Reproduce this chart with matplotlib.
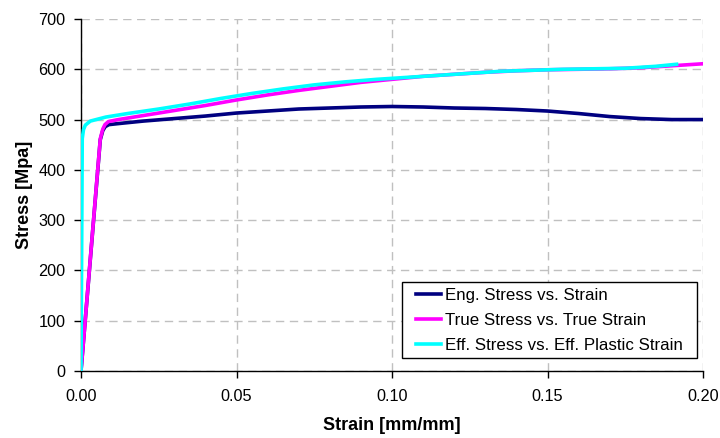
import matplotlib
matplotlib.use("Agg")
import matplotlib.pyplot as plt
from matplotlib.patches import Rectangle

# Engineering stress vs. engineering strain
eng_strain = [0, 0.0062, 0.007, 0.0078, 0.009, 0.012, 0.02, 0.03, 0.04, 0.05, 0.06, 0.07,
              0.08, 0.09, 0.10, 0.11, 0.12, 0.13, 0.14, 0.15, 0.16, 0.17, 0.18, 0.19, 0.20]
eng_stress = [0, 460, 478, 486, 490, 492, 497, 502, 507, 513, 517, 521,
              523, 525, 526, 525, 523, 522, 520, 517, 512, 506, 502, 500, 500]

# True stress vs. true strain
true_strain = [0, 0.0062, 0.007, 0.0077, 0.0088, 0.012, 0.02, 0.03, 0.04, 0.05, 0.06,
               0.07, 0.08, 0.09, 0.10, 0.11, 0.12, 0.13, 0.14, 0.15, 0.16, 0.17, 0.18,
               0.19, 0.20]
true_stress = [0, 462, 481, 490, 496, 500, 508, 518, 528, 539, 549,
               558, 566, 574, 580, 586, 590, 594, 597, 599, 600, 601, 603,
               607, 611]

# Effective stress vs. effective plastic strain
eff_strain = [0, 0.0004, 0.0008, 0.0014, 0.003, 0.008, 0.015, 0.025, 0.035, 0.045, 0.055,
              0.065, 0.075, 0.085, 0.095, 0.105, 0.115, 0.125, 0.135, 0.145, 0.155,
              0.165, 0.175, 0.185, 0.1915]
eff_stress = [0, 462, 480, 489, 497, 505, 512, 521, 531, 542, 552,
              561, 569, 575, 580, 584, 588, 592, 596, 598, 600,
              601, 602, 606, 610]

x_ticks = [0.00, 0.05, 0.10, 0.15, 0.20]
y_ticks = [0, 100, 200, 300, 400, 500, 600, 700]

plt.rcParams['font.family'] = ['Liberation Sans', 'DejaVu Sans']

fig = plt.figure(figsize=(7.2, 4.38), dpi=100)
ax = fig.add_axes([81 / 720, 1 - 371 / 438, (703 - 81) / 720, (371 - 19) / 438])

ax.plot(eng_strain, eng_stress, color='#000080', lw=2.6,
        label='Eng. Stress vs. Strain', zorder=3)
ax.plot(true_strain, true_stress, color='#FF00FF', lw=2.6,
        label='True Stress vs. True Strain', zorder=4)
ax.plot(eff_strain, eff_stress, color='#00FFFF', lw=2.6,
        label='Eff. Stress vs. Eff. Plastic Strain', zorder=5)

ax.set_xlim(0, 0.20)
ax.set_ylim(0, 700)
ax.set_xticks(x_ticks)
ax.set_xticklabels([f"{v:.2f}" for v in x_ticks])
ax.set_yticks(y_ticks)
ax.tick_params(direction='out', length=5, width=1, labelsize=11.7, colors='black')
ax.tick_params(axis='x', pad=8)
ax.tick_params(axis='y', pad=6)

ax.grid(True, color='#C0C0C0', linestyle=(0, (6, 4)), linewidth=1, zorder=0)
ax.set_axisbelow(True)
for side in ('top', 'right'):
    ax.spines[side].set_visible(False)
for side in ('left', 'bottom'):
    ax.spines[side].set_linewidth(1)
    ax.spines[side].set_color('black')

ax.set_xlabel('Strain [mm/mm]', fontsize=13, fontweight='bold', labelpad=9)
ax.set_ylabel('Stress [Mpa]', fontsize=13, fontweight='bold', labelpad=4)

# Legend entries without a frame; the box is drawn separately with wider side margins
leg = ax.legend(loc='lower right', bbox_to_anchor=(0.976, 0.037), fontsize=12.2,
                frameon=False, handlelength=1.45, handletextpad=0.25,
                borderpad=0.3, labelspacing=0.6, borderaxespad=0)
leg.set_zorder(8)

fig.canvas.draw()
bb = leg.get_window_extent().transformed(fig.transFigure.inverted())
side_pad = 9 / 720
box = Rectangle((bb.x0 - side_pad, bb.y0), bb.width + 2 * side_pad, bb.height,
                transform=fig.transFigure, facecolor='white', edgecolor='black',
                linewidth=1, zorder=7)
ax.add_patch(box)

fig.savefig('out.png', dpi=100)
